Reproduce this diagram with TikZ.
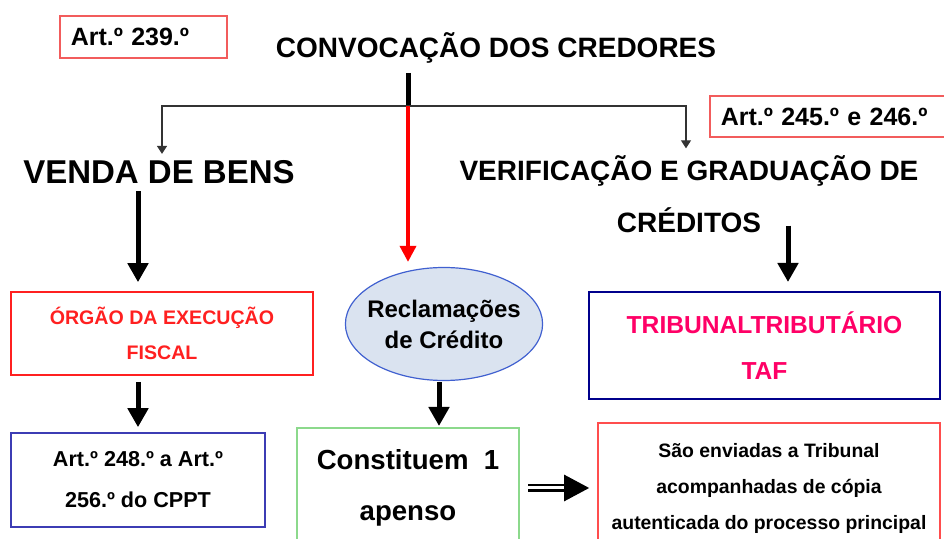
\documentclass[tikz,border=0pt]{standalone}
\usepackage{fontspec}
\setmainfont{Liberation Sans}
\usetikzlibrary{arrows.meta,shapes.geometric}
\definecolor{artred}{HTML}{F25C5C}
\definecolor{orgred}{HTML}{FF2020}
\definecolor{lawblue}{HTML}{3C3CB4}
\definecolor{tafnavy}{HTML}{00008C}
\definecolor{tafpink}{HTML}{FF0066}
\definecolor{apgreen}{HTML}{8CD98C}
\definecolor{envred}{HTML}{FF4D4D}
\definecolor{reclfill}{HTML}{DAE3F0}
\definecolor{reclline}{HTML}{4060D0}
\begin{document}
\begin{tikzpicture}[x=0.5pt,y=-0.5pt,
  artbox/.style={draw=artred,line width=0.8pt,align=left,anchor=west,minimum height=21pt,inner xsep=5.5pt,font=\bfseries\fontsize{12.5}{15}\selectfont},
  title/.style={align=center,font=\bfseries\fontsize{14}{26}\selectfont},
  box/.style={align=center,line width=0.8pt},
  bigarrow/.style={line width=2.5pt,-{Triangle[length=9.5pt,width=10pt]}},
  branch/.style={draw=black!80,line width=0.6pt,-{Triangle[length=4pt,width=5pt]}},
  redarrow/.style={red,line width=1.8pt,-{Triangle[length=8pt,width=8pt]}},
  triplearrow/.style={double,double distance=1.5pt,line width=1.3pt,-{Triangle[length=12.5pt,width=13pt]}}]
\useasboundingbox (0,0) rectangle (944,539);
\clip (0,0) rectangle (944,539);
% top row
\node[artbox,text width=72.5pt] (art239) at (59,37) {Art.º 239.º};
\node[title,anchor=base] (conv) at (496,58) {CONVOCAÇÃO DOS CREDORES};
\node[artbox,text width=110pt,minimum height=20.5pt] (art245) at (709,116.5) {Art.º 245.º e 246.º};
\node[anchor=base,font=\bfseries\fontsize{16.5}{18}\selectfont] (venda) at (159,184) {VENDA DE BENS};
\node[title] (verif) at (689,194) {VERIFICAÇÃO E GRADUAÇÃO DE\\CRÉDITOS};
% boxes
\node[box,draw=orgred,text=orgred,minimum width=151pt,minimum height=41.5pt,font=\bfseries\fontsize{9.8}{17.5}\selectfont] (orgao) at (162,333.5) {ÓRGÃO DA EXECUÇÃO\\FISCAL};
\node[box,draw=lawblue,minimum width=127pt,minimum height=47pt,font=\bfseries\fontsize{10.8}{20.5}\selectfont] (art248) at (138,480) {Art.º 248.º a Art.º\\256.º do CPPT};
\node[ellipse,draw=reclline,fill=reclfill,line width=0.6pt,align=center,inner xsep=-3.5pt,inner ysep=0pt,minimum width=97pt,minimum height=56.5pt,font=\bfseries\fontsize{12}{15.5}\selectfont] (recl) at (444,324) {Reclamações\\de Crédito};
\node[box,draw=apgreen,line width=1pt,minimum width=111pt,minimum height=60pt,font=\bfseries\fontsize{13.8}{25.5}\selectfont] (const) at (408,488) {Constituem\ \ 1\\apenso};
\node[box,draw=tafnavy,line width=1pt,minimum width=175.5pt,minimum height=53.5pt,text=tafpink,font=\bfseries\fontsize{12.3}{23}\selectfont] (trib) at (764.5,345.5) {TRIBUNALTRIBUTÁRIO\\TAF};
\node[box,draw=envred,minimum width=171pt,minimum height=65pt,font=\bfseries\fontsize{9.7}{18}\selectfont] (envi) at (769,488) {São enviadas a Tribunal\\acompanhadas de cópia\\autenticada do processo principal};
% connectors
\coordinate (top) at (408,73);
\coordinate (hub) at (408,106);
\draw[line width=2.5pt] (top) -- (hub);
\draw[branch] (hub) -| ([xshift=1.5pt]venda.north);
\draw[branch] (hub) -| ([xshift=-1.5pt]verif.north);
\draw[redarrow,shorten >=2.5pt] (hub) -- (hub |- recl.north);
\draw[bigarrow,shorten >=4.5pt] (venda.south -| art248.north) -- (orgao.north -| art248.north);
\draw[bigarrow,shorten <=3pt,shorten >=2.5pt] (orgao.south -| art248.north) -- (art248.north);
\draw[bigarrow,shorten <=0.5pt,shorten >=0.5pt] ([xshift=-2.5pt]recl.south) -- ([xshift=-2.5pt]recl.south |- const.north);
\draw[bigarrow,shorten >=4.5pt] ([xshift=49.5pt,yshift=7pt]verif.south) -- ([xshift=49.5pt]verif.south |- trib.north);
\draw[triplearrow,shorten <=4pt,shorten >=4pt] (const.east) -- (envi.west);
\end{tikzpicture}
\end{document}
